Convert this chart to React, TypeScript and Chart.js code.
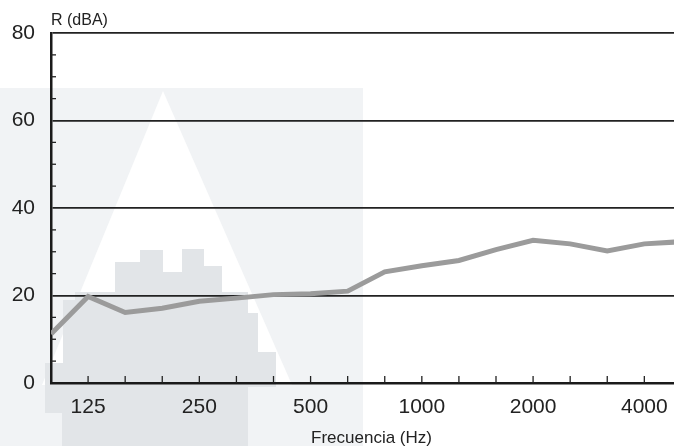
import React, { useEffect, useRef } from "react";
import { Chart, registerables } from "chart.js";

Chart.register(...registerables);

// Third-octave band centre frequencies (Hz)
const freqBands = ["100", "125", "160", "200", "250", "315", "400", "500", "630", "800", "1000", "1250", "1600", "2000", "2500", "3150", "4000", "5000"];
// Bands that carry a printed label
const labeledBands = ["125", "250", "500", "1000", "2000", "4000"];
// Sound reduction index R (dBA)
const rValues = [11.2, 19.8, 16.1, 17.1, 18.7, 19.4, 20.2, 20.4, 21.0, 25.4, 26.8, 28.0, 30.5, 32.6, 31.8, 30.2, 31.8, 32.3];
// Y-axis
const yMin = 0;
const yMax = 80;
const yMinorStep = 5;
const yMajorStep = 20;
const xVisibleMax = 16.8;

const yTitle = "R (dBA)";
const xTitle = "Frecuencia (Hz)";

const FONT = "'Liberation Sans', Arial, sans-serif";

const backdropPlugin = {
  id: "scanBackdrop",
  beforeDraw(chart: any) {
    const { ctx, width, height } = chart;
    ctx.save();
    ctx.fillStyle = "#ffffff";
    ctx.fillRect(0, 0, width, height);
    // faint scanned watermark behind the chart
    ctx.fillStyle = "#f1f3f5";
    ctx.fillRect(0, 88, 363, height - 88);
    ctx.fillStyle = "#ffffff";
    ctx.beginPath();
    ctx.moveTo(163, 91);
    ctx.lineTo(292, 385);
    ctx.lineTo(42, 385);
    ctx.closePath();
    ctx.fill();
    ctx.fillStyle = "#e2e5e8";
    ctx.beginPath();
    const pts = [
      [115, 262], [140, 262], [140, 250], [163, 250], [163, 272], [182, 272], [182, 249], [204, 249],
      [204, 266], [222, 266], [222, 292], [248, 292], [248, 313], [258, 313], [258, 352], [276, 352],
      [276, 387], [248, 387], [248, 446], [62, 446], [62, 413], [45, 413], [45, 363], [63, 363],
      [63, 300], [75, 300], [75, 292], [115, 292],
    ];
    pts.forEach((p, i) => (i === 0 ? ctx.moveTo(p[0], p[1]) : ctx.lineTo(p[0], p[1])));
    ctx.closePath();
    ctx.fill();
    ctx.restore();
  },
  afterDraw(chart: any) {
    const { ctx, chartArea } = chart;
    const xs = chart.scales.x;
    const ys = chart.scales.y;
    ctx.save();
    ctx.strokeStyle = "#222222";
    ctx.lineWidth = 1.3;
    // inward minor ticks on y axis
    for (let v = yMin + yMinorStep; v < yMax; v += yMinorStep) {
      if (v % yMajorStep === 0) continue;
      const y = ys.getPixelForValue(v);
      ctx.beginPath();
      ctx.moveTo(chartArea.left, y);
      ctx.lineTo(chartArea.left + 5, y);
      ctx.stroke();
    }
    // inward ticks on x axis at every band
    freqBands.forEach((_, i) => {
      if (i === 0 || i > xVisibleMax) return;
      const x = xs.getPixelForValue(i);
      ctx.beginPath();
      ctx.moveTo(x, chartArea.bottom);
      ctx.lineTo(x, chartArea.bottom - 7);
      ctx.stroke();
    });
    // titles
    ctx.fillStyle = "#222222";
    ctx.textBaseline = "middle";
    ctx.textAlign = "left";
    ctx.font = `16px ${FONT}`;
    ctx.fillText(yTitle, chartArea.left, chartArea.top - 12);
    ctx.textAlign = "center";
    ctx.font = `17px ${FONT}`;
    ctx.fillText(xTitle, (chartArea.left + chartArea.right) / 2 + 9, chartArea.bottom + 55);
    ctx.restore();
  },
};

export default function App() {
  const canvasRef = useRef<HTMLCanvasElement | null>(null);

  useEffect(() => {
    if (!canvasRef.current) return;
    const chart = new Chart(canvasRef.current, {
      type: "line",
      data: {
        datasets: [
          {
            label: yTitle,
            data: rValues.map((v, i) => ({ x: i, y: v })),
            borderColor: "#9b9b9b",
            borderWidth: 5,
            pointRadius: 0,
            tension: 0,
            fill: false,
          },
        ],
      },
      options: {
        animation: false,
        responsive: false,
        devicePixelRatio: 1,
        layout: { padding: { left: 0, top: 33, right: 0, bottom: 0 } },
        plugins: { legend: { display: false }, tooltip: { enabled: false }, title: { display: false } },
        scales: {
          x: {
            type: "linear",
            min: 0,
            max: xVisibleMax,
            afterFit: (scale: any) => {
              scale.height = 63;
              scale.paddingLeft = 0;
              scale.paddingRight = 0;
            },
            border: { display: true, color: "#1a1a1a", width: 2.5 },
            grid: { display: false, drawTicks: false },
            ticks: {
              stepSize: 1,
              autoSkip: false,
              includeBounds: false,
              maxRotation: 0,
              padding: 12,
              color: "#222222",
              font: { family: FONT, size: 21 },
              callback: (value: any) => {
                const i = Number(value);
                if (!Number.isInteger(i)) return "";
                const f = freqBands[i];
                return labeledBands.includes(f) ? f : "";
              },
            },
          },
          y: {
            type: "linear",
            min: yMin,
            max: yMax,
            afterFit: (scale: any) => {
              scale.width = 51;
              scale.paddingTop = 0;
              scale.paddingBottom = 0;
            },
            border: { display: true, color: "#1a1a1a", width: 2.5 },
            grid: {
              drawTicks: false,
              lineWidth: 1.8,
              color: (ctx: any) => (ctx.tick && ctx.tick.value % yMajorStep === 0 ? "#222222" : "rgba(0,0,0,0)"),
            },
            ticks: {
              stepSize: yMinorStep,
              autoSkip: false,
              padding: 16,
              color: "#222222",
              font: { family: FONT, size: 21 },
              callback: (value: any) => (Number(value) % yMajorStep === 0 ? String(value) : ""),
            },
          },
        },
      },
      plugins: [backdropPlugin],
    });
    return () => chart.destroy();
  }, []);

  return (
    <div style={{ position: "fixed", left: 0, top: 0, width: 674, height: 446, overflow: "hidden", background: "#fff" }}>
      <canvas ref={canvasRef} width={674} height={446} style={{ display: "block" }} />
    </div>
  );
}
